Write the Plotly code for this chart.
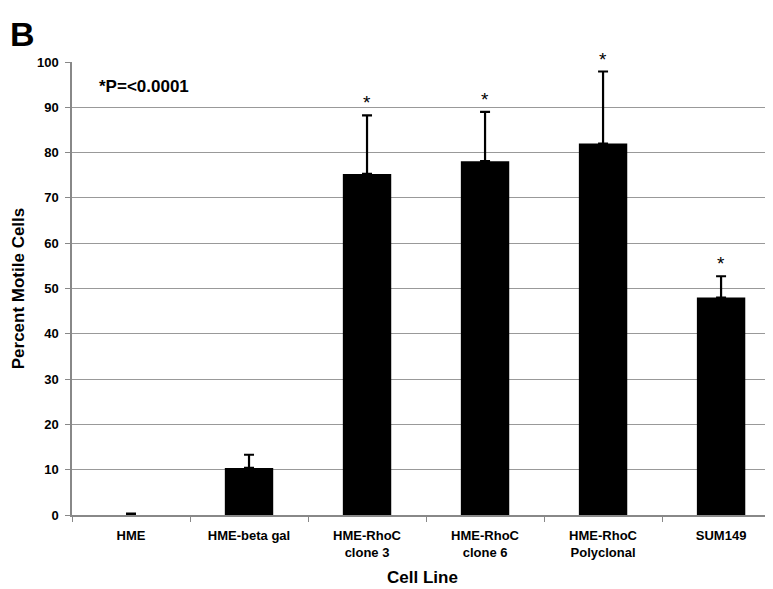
import plotly.graph_objects as go

categories = ["HME", "HME-beta gal", "HME-RhoC<br>clone 3", "HME-RhoC<br>clone 6",
              "HME-RhoC<br>Polyclonal", "SUM149"]
motile_pct = [0.0, 10.4, 75.3, 78.1, 82.0, 48.0]
error_up = [0.3, 2.9, 12.9, 10.9, 15.9, 4.7]
significant = [False, False, True, True, True, True]
y_ticks = [0, 10, 20, 30, 40, 50, 60, 70, 80, 90, 100]

FONT = "Liberation Sans, Arial, sans-serif"

fig = go.Figure()
fig.add_trace(go.Bar(
    x=categories, y=motile_pct,
    marker=dict(color="black", line=dict(width=0)),
    width=0.41,
    error_y=dict(type="data", array=error_up, symmetric=False,
                 arrayminus=[0] * len(error_up),
                 color="black", thickness=2.2, width=5),
    showlegend=False,
))

for cat, v, e, s in zip(categories, motile_pct, error_up, significant):
    if s:
        fig.add_annotation(x=cat, y=v + e, text="*", showarrow=False,
                           yanchor="bottom", yshift=0,
                           font=dict(family=FONT, size=19, color="black"))

fig.add_annotation(xref="paper", yref="paper", x=0.036, y=0.945,
                   text="<b>*P=<0.0001</b>", showarrow=False,
                   xanchor="left", yanchor="middle",
                   font=dict(family=FONT, size=17, color="black"))
fig.add_annotation(xref="paper", yref="paper", x=-0.09, y=1.018,
                   text="<b>B</b>", showarrow=False,
                   xanchor="left", yanchor="bottom", borderpad=0,
                   font=dict(family=FONT, size=34, color="black"))

fig.update_layout(
    width=765, height=581,
    margin=dict(l=64, r=0, t=54, b=74),
    plot_bgcolor="white", paper_bgcolor="white",
    font=dict(family=FONT, color="black"),
    xaxis=dict(
        range=[-0.5, 5.44], automargin=False,
        showline=True, linecolor="#888", linewidth=1.5,
        ticks="outside", tickson="boundaries", ticklen=5, tickcolor="#888",
        ticklabelstandoff=8,
        tickfont=dict(family=FONT, size=13, color="black", weight="bold"),
        showgrid=False,
        title=dict(text="<b>Cell Line</b>", font=dict(family=FONT, size=17), standoff=12),
    ),
    yaxis=dict(
        range=[0, 100], tickvals=y_ticks, automargin=False,
        showline=True, linecolor="#888", linewidth=1.5,
        ticks="outside", ticklen=5, tickcolor="#888",
        ticklabelstandoff=4,
        showgrid=True, gridcolor="#999", gridwidth=1,
        zeroline=False,
        tickfont=dict(family=FONT, size=13, color="black", weight="bold"),
        title=dict(text="<b>Percent Motile Cells</b>", font=dict(family=FONT, size=17), standoff=8),
    ),
)

fig.write_html("out.html")
